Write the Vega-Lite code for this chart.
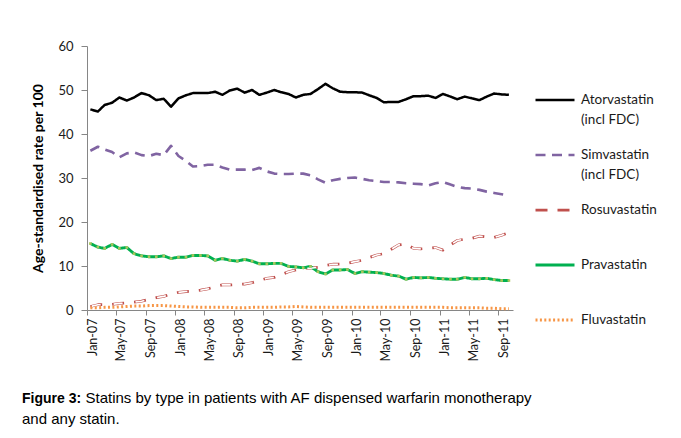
{
  "$schema": "https://vega.github.io/schema/vega-lite/v6.json",
  "width": 426,
  "height": 264,
  "autosize": {"type": "none"},
  "padding": {"left": 87, "top": 46, "right": 168, "bottom": 128},
  "background": "white",
  "title": {
    "text": "Figure 3:",
    "subtitle": "and any statin.",
    "orient": "bottom",
    "anchor": "start",
    "frame": "group",
    "dx": -65,
    "offset": -13,
    "font": "Liberation Sans",
    "fontSize": 14,
    "fontWeight": "bold",
    "color": "#000000",
    "subtitleFont": "Liberation Sans",
    "subtitleFontSize": 15,
    "subtitleColor": "#000000",
    "subtitlePadding": 6
  },
  "config": {
    "view": {"stroke": null},
    "style": {"guide-label": {"lineHeight": 20}}
  },
  "data": {
    "values": [
{"month":"2007-01-15","statin":"Atorvastatin (incl FDC)","rate":45.6},
{"month":"2007-02-15","statin":"Atorvastatin (incl FDC)","rate":45.1},
{"month":"2007-03-15","statin":"Atorvastatin (incl FDC)","rate":46.6},
{"month":"2007-04-15","statin":"Atorvastatin (incl FDC)","rate":47.1},
{"month":"2007-05-15","statin":"Atorvastatin (incl FDC)","rate":48.3},
{"month":"2007-06-15","statin":"Atorvastatin (incl FDC)","rate":47.6},
{"month":"2007-07-15","statin":"Atorvastatin (incl FDC)","rate":48.3},
{"month":"2007-08-15","statin":"Atorvastatin (incl FDC)","rate":49.3},
{"month":"2007-09-15","statin":"Atorvastatin (incl FDC)","rate":48.8},
{"month":"2007-10-15","statin":"Atorvastatin (incl FDC)","rate":47.7},
{"month":"2007-11-15","statin":"Atorvastatin (incl FDC)","rate":48.0},
{"month":"2007-12-15","statin":"Atorvastatin (incl FDC)","rate":46.2},
{"month":"2008-01-15","statin":"Atorvastatin (incl FDC)","rate":48.1},
{"month":"2008-02-15","statin":"Atorvastatin (incl FDC)","rate":48.8},
{"month":"2008-03-15","statin":"Atorvastatin (incl FDC)","rate":49.3},
{"month":"2008-04-15","statin":"Atorvastatin (incl FDC)","rate":49.3},
{"month":"2008-05-15","statin":"Atorvastatin (incl FDC)","rate":49.3},
{"month":"2008-06-15","statin":"Atorvastatin (incl FDC)","rate":49.6},
{"month":"2008-07-15","statin":"Atorvastatin (incl FDC)","rate":48.9},
{"month":"2008-08-15","statin":"Atorvastatin (incl FDC)","rate":49.9},
{"month":"2008-09-15","statin":"Atorvastatin (incl FDC)","rate":50.3},
{"month":"2008-10-15","statin":"Atorvastatin (incl FDC)","rate":49.4},
{"month":"2008-11-15","statin":"Atorvastatin (incl FDC)","rate":50.0},
{"month":"2008-12-15","statin":"Atorvastatin (incl FDC)","rate":48.9},
{"month":"2009-01-15","statin":"Atorvastatin (incl FDC)","rate":49.4},
{"month":"2009-02-15","statin":"Atorvastatin (incl FDC)","rate":50.0},
{"month":"2009-03-15","statin":"Atorvastatin (incl FDC)","rate":49.5},
{"month":"2009-04-15","statin":"Atorvastatin (incl FDC)","rate":49.1},
{"month":"2009-05-15","statin":"Atorvastatin (incl FDC)","rate":48.3},
{"month":"2009-06-15","statin":"Atorvastatin (incl FDC)","rate":48.9},
{"month":"2009-07-15","statin":"Atorvastatin (incl FDC)","rate":49.1},
{"month":"2009-08-15","statin":"Atorvastatin (incl FDC)","rate":50.2},
{"month":"2009-09-15","statin":"Atorvastatin (incl FDC)","rate":51.4},
{"month":"2009-10-15","statin":"Atorvastatin (incl FDC)","rate":50.4},
{"month":"2009-11-15","statin":"Atorvastatin (incl FDC)","rate":49.6},
{"month":"2009-12-15","statin":"Atorvastatin (incl FDC)","rate":49.5},
{"month":"2010-01-15","statin":"Atorvastatin (incl FDC)","rate":49.5},
{"month":"2010-02-15","statin":"Atorvastatin (incl FDC)","rate":49.4},
{"month":"2010-03-15","statin":"Atorvastatin (incl FDC)","rate":48.8},
{"month":"2010-04-15","statin":"Atorvastatin (incl FDC)","rate":48.2},
{"month":"2010-05-15","statin":"Atorvastatin (incl FDC)","rate":47.2},
{"month":"2010-06-15","statin":"Atorvastatin (incl FDC)","rate":47.3},
{"month":"2010-07-15","statin":"Atorvastatin (incl FDC)","rate":47.3},
{"month":"2010-08-15","statin":"Atorvastatin (incl FDC)","rate":47.9},
{"month":"2010-09-15","statin":"Atorvastatin (incl FDC)","rate":48.6},
{"month":"2010-10-15","statin":"Atorvastatin (incl FDC)","rate":48.6},
{"month":"2010-11-15","statin":"Atorvastatin (incl FDC)","rate":48.7},
{"month":"2010-12-15","statin":"Atorvastatin (incl FDC)","rate":48.2},
{"month":"2011-01-15","statin":"Atorvastatin (incl FDC)","rate":49.1},
{"month":"2011-02-15","statin":"Atorvastatin (incl FDC)","rate":48.5},
{"month":"2011-03-15","statin":"Atorvastatin (incl FDC)","rate":47.9},
{"month":"2011-04-15","statin":"Atorvastatin (incl FDC)","rate":48.5},
{"month":"2011-05-15","statin":"Atorvastatin (incl FDC)","rate":48.1},
{"month":"2011-06-15","statin":"Atorvastatin (incl FDC)","rate":47.7},
{"month":"2011-07-15","statin":"Atorvastatin (incl FDC)","rate":48.5},
{"month":"2011-08-15","statin":"Atorvastatin (incl FDC)","rate":49.2},
{"month":"2011-09-15","statin":"Atorvastatin (incl FDC)","rate":49.0},
{"month":"2011-10-15","statin":"Atorvastatin (incl FDC)","rate":48.9},
{"month":"2007-01-15","statin":"Simvastatin (incl FDC)","rate":36.2},
{"month":"2007-02-15","statin":"Simvastatin (incl FDC)","rate":37.1},
{"month":"2007-03-15","statin":"Simvastatin (incl FDC)","rate":36.5},
{"month":"2007-04-15","statin":"Simvastatin (incl FDC)","rate":35.9},
{"month":"2007-05-15","statin":"Simvastatin (incl FDC)","rate":34.7},
{"month":"2007-06-15","statin":"Simvastatin (incl FDC)","rate":35.6},
{"month":"2007-07-15","statin":"Simvastatin (incl FDC)","rate":35.8},
{"month":"2007-08-15","statin":"Simvastatin (incl FDC)","rate":35.2},
{"month":"2007-09-15","statin":"Simvastatin (incl FDC)","rate":35.0},
{"month":"2007-10-15","statin":"Simvastatin (incl FDC)","rate":35.5},
{"month":"2007-11-15","statin":"Simvastatin (incl FDC)","rate":35.2},
{"month":"2007-12-15","statin":"Simvastatin (incl FDC)","rate":37.3},
{"month":"2008-01-15","statin":"Simvastatin (incl FDC)","rate":35.0},
{"month":"2008-02-15","statin":"Simvastatin (incl FDC)","rate":33.9},
{"month":"2008-03-15","statin":"Simvastatin (incl FDC)","rate":32.6},
{"month":"2008-04-15","statin":"Simvastatin (incl FDC)","rate":32.7},
{"month":"2008-05-15","statin":"Simvastatin (incl FDC)","rate":33.0},
{"month":"2008-06-15","statin":"Simvastatin (incl FDC)","rate":33.0},
{"month":"2008-07-15","statin":"Simvastatin (incl FDC)","rate":32.4},
{"month":"2008-08-15","statin":"Simvastatin (incl FDC)","rate":31.9},
{"month":"2008-09-15","statin":"Simvastatin (incl FDC)","rate":31.9},
{"month":"2008-10-15","statin":"Simvastatin (incl FDC)","rate":31.9},
{"month":"2008-11-15","statin":"Simvastatin (incl FDC)","rate":31.8},
{"month":"2008-12-15","statin":"Simvastatin (incl FDC)","rate":32.3},
{"month":"2009-01-15","statin":"Simvastatin (incl FDC)","rate":31.5},
{"month":"2009-02-15","statin":"Simvastatin (incl FDC)","rate":31.0},
{"month":"2009-03-15","statin":"Simvastatin (incl FDC)","rate":30.9},
{"month":"2009-04-15","statin":"Simvastatin (incl FDC)","rate":30.9},
{"month":"2009-05-15","statin":"Simvastatin (incl FDC)","rate":31.0},
{"month":"2009-06-15","statin":"Simvastatin (incl FDC)","rate":31.0},
{"month":"2009-07-15","statin":"Simvastatin (incl FDC)","rate":30.6},
{"month":"2009-08-15","statin":"Simvastatin (incl FDC)","rate":29.7},
{"month":"2009-09-15","statin":"Simvastatin (incl FDC)","rate":28.9},
{"month":"2009-10-15","statin":"Simvastatin (incl FDC)","rate":29.5},
{"month":"2009-11-15","statin":"Simvastatin (incl FDC)","rate":29.8},
{"month":"2009-12-15","statin":"Simvastatin (incl FDC)","rate":30.0},
{"month":"2010-01-15","statin":"Simvastatin (incl FDC)","rate":30.1},
{"month":"2010-02-15","statin":"Simvastatin (incl FDC)","rate":29.8},
{"month":"2010-03-15","statin":"Simvastatin (incl FDC)","rate":29.5},
{"month":"2010-04-15","statin":"Simvastatin (incl FDC)","rate":29.3},
{"month":"2010-05-15","statin":"Simvastatin (incl FDC)","rate":29.1},
{"month":"2010-06-15","statin":"Simvastatin (incl FDC)","rate":29.1},
{"month":"2010-07-15","statin":"Simvastatin (incl FDC)","rate":29.0},
{"month":"2010-08-15","statin":"Simvastatin (incl FDC)","rate":28.8},
{"month":"2010-09-15","statin":"Simvastatin (incl FDC)","rate":28.7},
{"month":"2010-10-15","statin":"Simvastatin (incl FDC)","rate":28.6},
{"month":"2010-11-15","statin":"Simvastatin (incl FDC)","rate":28.3},
{"month":"2010-12-15","statin":"Simvastatin (incl FDC)","rate":28.8},
{"month":"2011-01-15","statin":"Simvastatin (incl FDC)","rate":29.1},
{"month":"2011-02-15","statin":"Simvastatin (incl FDC)","rate":28.5},
{"month":"2011-03-15","statin":"Simvastatin (incl FDC)","rate":28.0},
{"month":"2011-04-15","statin":"Simvastatin (incl FDC)","rate":27.7},
{"month":"2011-05-15","statin":"Simvastatin (incl FDC)","rate":27.6},
{"month":"2011-06-15","statin":"Simvastatin (incl FDC)","rate":27.3},
{"month":"2011-07-15","statin":"Simvastatin (incl FDC)","rate":26.9},
{"month":"2011-08-15","statin":"Simvastatin (incl FDC)","rate":26.6},
{"month":"2011-09-15","statin":"Simvastatin (incl FDC)","rate":26.3},
{"month":"2011-10-15","statin":"Simvastatin (incl FDC)","rate":26.0},
{"month":"2007-01-15","statin":"Rosuvastatin","rate":0.8},
{"month":"2007-02-15","statin":"Rosuvastatin","rate":1.2},
{"month":"2007-03-15","statin":"Rosuvastatin","rate":1.2},
{"month":"2007-04-15","statin":"Rosuvastatin","rate":1.3},
{"month":"2007-05-15","statin":"Rosuvastatin","rate":1.5},
{"month":"2007-06-15","statin":"Rosuvastatin","rate":1.6},
{"month":"2007-07-15","statin":"Rosuvastatin","rate":1.8},
{"month":"2007-08-15","statin":"Rosuvastatin","rate":2.0},
{"month":"2007-09-15","statin":"Rosuvastatin","rate":2.4},
{"month":"2007-10-15","statin":"Rosuvastatin","rate":2.8},
{"month":"2007-11-15","statin":"Rosuvastatin","rate":3.1},
{"month":"2007-12-15","statin":"Rosuvastatin","rate":3.6},
{"month":"2008-01-15","statin":"Rosuvastatin","rate":4.0},
{"month":"2008-02-15","statin":"Rosuvastatin","rate":4.2},
{"month":"2008-03-15","statin":"Rosuvastatin","rate":4.3},
{"month":"2008-04-15","statin":"Rosuvastatin","rate":4.5},
{"month":"2008-05-15","statin":"Rosuvastatin","rate":4.8},
{"month":"2008-06-15","statin":"Rosuvastatin","rate":5.3},
{"month":"2008-07-15","statin":"Rosuvastatin","rate":5.7},
{"month":"2008-08-15","statin":"Rosuvastatin","rate":5.7},
{"month":"2008-09-15","statin":"Rosuvastatin","rate":5.8},
{"month":"2008-10-15","statin":"Rosuvastatin","rate":5.9},
{"month":"2008-11-15","statin":"Rosuvastatin","rate":6.2},
{"month":"2008-12-15","statin":"Rosuvastatin","rate":6.7},
{"month":"2009-01-15","statin":"Rosuvastatin","rate":7.2},
{"month":"2009-02-15","statin":"Rosuvastatin","rate":7.4},
{"month":"2009-03-15","statin":"Rosuvastatin","rate":8.0},
{"month":"2009-04-15","statin":"Rosuvastatin","rate":8.7},
{"month":"2009-05-15","statin":"Rosuvastatin","rate":9.1},
{"month":"2009-06-15","statin":"Rosuvastatin","rate":9.5},
{"month":"2009-07-15","statin":"Rosuvastatin","rate":9.5},
{"month":"2009-08-15","statin":"Rosuvastatin","rate":9.7},
{"month":"2009-09-15","statin":"Rosuvastatin","rate":10.1},
{"month":"2009-10-15","statin":"Rosuvastatin","rate":10.4},
{"month":"2009-11-15","statin":"Rosuvastatin","rate":10.4},
{"month":"2009-12-15","statin":"Rosuvastatin","rate":10.6},
{"month":"2010-01-15","statin":"Rosuvastatin","rate":11.0},
{"month":"2010-02-15","statin":"Rosuvastatin","rate":11.3},
{"month":"2010-03-15","statin":"Rosuvastatin","rate":11.9},
{"month":"2010-04-15","statin":"Rosuvastatin","rate":12.5},
{"month":"2010-05-15","statin":"Rosuvastatin","rate":12.8},
{"month":"2010-06-15","statin":"Rosuvastatin","rate":13.8},
{"month":"2010-07-15","statin":"Rosuvastatin","rate":14.8},
{"month":"2010-08-15","statin":"Rosuvastatin","rate":15.0},
{"month":"2010-09-15","statin":"Rosuvastatin","rate":14.0},
{"month":"2010-10-15","statin":"Rosuvastatin","rate":13.9},
{"month":"2010-11-15","statin":"Rosuvastatin","rate":14.0},
{"month":"2010-12-15","statin":"Rosuvastatin","rate":14.2},
{"month":"2011-01-15","statin":"Rosuvastatin","rate":13.6},
{"month":"2011-02-15","statin":"Rosuvastatin","rate":14.8},
{"month":"2011-03-15","statin":"Rosuvastatin","rate":15.8},
{"month":"2011-04-15","statin":"Rosuvastatin","rate":16.1},
{"month":"2011-05-15","statin":"Rosuvastatin","rate":16.3},
{"month":"2011-06-15","statin":"Rosuvastatin","rate":16.8},
{"month":"2011-07-15","statin":"Rosuvastatin","rate":16.6},
{"month":"2011-08-15","statin":"Rosuvastatin","rate":16.5},
{"month":"2011-09-15","statin":"Rosuvastatin","rate":17.0},
{"month":"2011-10-15","statin":"Rosuvastatin","rate":17.6},
{"month":"2007-01-15","statin":"Pravastatin","rate":15.1},
{"month":"2007-02-15","statin":"Pravastatin","rate":14.3},
{"month":"2007-03-15","statin":"Pravastatin","rate":14.0},
{"month":"2007-04-15","statin":"Pravastatin","rate":14.9},
{"month":"2007-05-15","statin":"Pravastatin","rate":14.0},
{"month":"2007-06-15","statin":"Pravastatin","rate":14.2},
{"month":"2007-07-15","statin":"Pravastatin","rate":12.8},
{"month":"2007-08-15","statin":"Pravastatin","rate":12.3},
{"month":"2007-09-15","statin":"Pravastatin","rate":12.1},
{"month":"2007-10-15","statin":"Pravastatin","rate":12.1},
{"month":"2007-11-15","statin":"Pravastatin","rate":12.3},
{"month":"2007-12-15","statin":"Pravastatin","rate":11.7},
{"month":"2008-01-15","statin":"Pravastatin","rate":12.0},
{"month":"2008-02-15","statin":"Pravastatin","rate":12.0},
{"month":"2008-03-15","statin":"Pravastatin","rate":12.4},
{"month":"2008-04-15","statin":"Pravastatin","rate":12.4},
{"month":"2008-05-15","statin":"Pravastatin","rate":12.3},
{"month":"2008-06-15","statin":"Pravastatin","rate":11.3},
{"month":"2008-07-15","statin":"Pravastatin","rate":11.7},
{"month":"2008-08-15","statin":"Pravastatin","rate":11.3},
{"month":"2008-09-15","statin":"Pravastatin","rate":11.1},
{"month":"2008-10-15","statin":"Pravastatin","rate":11.5},
{"month":"2008-11-15","statin":"Pravastatin","rate":11.1},
{"month":"2008-12-15","statin":"Pravastatin","rate":10.5},
{"month":"2009-01-15","statin":"Pravastatin","rate":10.5},
{"month":"2009-02-15","statin":"Pravastatin","rate":10.6},
{"month":"2009-03-15","statin":"Pravastatin","rate":10.6},
{"month":"2009-04-15","statin":"Pravastatin","rate":9.9},
{"month":"2009-05-15","statin":"Pravastatin","rate":9.8},
{"month":"2009-06-15","statin":"Pravastatin","rate":9.6},
{"month":"2009-07-15","statin":"Pravastatin","rate":9.9},
{"month":"2009-08-15","statin":"Pravastatin","rate":8.7},
{"month":"2009-09-15","statin":"Pravastatin","rate":8.2},
{"month":"2009-10-15","statin":"Pravastatin","rate":9.1},
{"month":"2009-11-15","statin":"Pravastatin","rate":9.1},
{"month":"2009-12-15","statin":"Pravastatin","rate":9.2},
{"month":"2010-01-15","statin":"Pravastatin","rate":8.3},
{"month":"2010-02-15","statin":"Pravastatin","rate":8.7},
{"month":"2010-03-15","statin":"Pravastatin","rate":8.6},
{"month":"2010-04-15","statin":"Pravastatin","rate":8.5},
{"month":"2010-05-15","statin":"Pravastatin","rate":8.3},
{"month":"2010-06-15","statin":"Pravastatin","rate":7.9},
{"month":"2010-07-15","statin":"Pravastatin","rate":7.7},
{"month":"2010-08-15","statin":"Pravastatin","rate":7.0},
{"month":"2010-09-15","statin":"Pravastatin","rate":7.4},
{"month":"2010-10-15","statin":"Pravastatin","rate":7.3},
{"month":"2010-11-15","statin":"Pravastatin","rate":7.4},
{"month":"2010-12-15","statin":"Pravastatin","rate":7.2},
{"month":"2011-01-15","statin":"Pravastatin","rate":7.1},
{"month":"2011-02-15","statin":"Pravastatin","rate":7.0},
{"month":"2011-03-15","statin":"Pravastatin","rate":7.0},
{"month":"2011-04-15","statin":"Pravastatin","rate":7.4},
{"month":"2011-05-15","statin":"Pravastatin","rate":7.1},
{"month":"2011-06-15","statin":"Pravastatin","rate":7.1},
{"month":"2011-07-15","statin":"Pravastatin","rate":7.2},
{"month":"2011-08-15","statin":"Pravastatin","rate":6.9},
{"month":"2011-09-15","statin":"Pravastatin","rate":6.7},
{"month":"2011-10-15","statin":"Pravastatin","rate":6.7},
{"month":"2007-01-15","statin":"Fluvastatin","rate":0.5},
{"month":"2007-02-15","statin":"Fluvastatin","rate":0.5},
{"month":"2007-03-15","statin":"Fluvastatin","rate":0.6},
{"month":"2007-04-15","statin":"Fluvastatin","rate":0.6},
{"month":"2007-05-15","statin":"Fluvastatin","rate":0.7},
{"month":"2007-06-15","statin":"Fluvastatin","rate":0.8},
{"month":"2007-07-15","statin":"Fluvastatin","rate":0.9},
{"month":"2007-08-15","statin":"Fluvastatin","rate":0.9},
{"month":"2007-09-15","statin":"Fluvastatin","rate":1.0},
{"month":"2007-10-15","statin":"Fluvastatin","rate":1.0},
{"month":"2007-11-15","statin":"Fluvastatin","rate":1.0},
{"month":"2007-12-15","statin":"Fluvastatin","rate":0.9},
{"month":"2008-01-15","statin":"Fluvastatin","rate":0.8},
{"month":"2008-02-15","statin":"Fluvastatin","rate":0.7},
{"month":"2008-03-15","statin":"Fluvastatin","rate":0.7},
{"month":"2008-04-15","statin":"Fluvastatin","rate":0.6},
{"month":"2008-05-15","statin":"Fluvastatin","rate":0.6},
{"month":"2008-06-15","statin":"Fluvastatin","rate":0.6},
{"month":"2008-07-15","statin":"Fluvastatin","rate":0.6},
{"month":"2008-08-15","statin":"Fluvastatin","rate":0.6},
{"month":"2008-09-15","statin":"Fluvastatin","rate":0.5},
{"month":"2008-10-15","statin":"Fluvastatin","rate":0.5},
{"month":"2008-11-15","statin":"Fluvastatin","rate":0.6},
{"month":"2008-12-15","statin":"Fluvastatin","rate":0.6},
{"month":"2009-01-15","statin":"Fluvastatin","rate":0.6},
{"month":"2009-02-15","statin":"Fluvastatin","rate":0.6},
{"month":"2009-03-15","statin":"Fluvastatin","rate":0.7},
{"month":"2009-04-15","statin":"Fluvastatin","rate":0.7},
{"month":"2009-05-15","statin":"Fluvastatin","rate":0.8},
{"month":"2009-06-15","statin":"Fluvastatin","rate":0.7},
{"month":"2009-07-15","statin":"Fluvastatin","rate":0.6},
{"month":"2009-08-15","statin":"Fluvastatin","rate":0.6},
{"month":"2009-09-15","statin":"Fluvastatin","rate":0.6},
{"month":"2009-10-15","statin":"Fluvastatin","rate":0.6},
{"month":"2009-11-15","statin":"Fluvastatin","rate":0.6},
{"month":"2009-12-15","statin":"Fluvastatin","rate":0.6},
{"month":"2010-01-15","statin":"Fluvastatin","rate":0.6},
{"month":"2010-02-15","statin":"Fluvastatin","rate":0.6},
{"month":"2010-03-15","statin":"Fluvastatin","rate":0.6},
{"month":"2010-04-15","statin":"Fluvastatin","rate":0.6},
{"month":"2010-05-15","statin":"Fluvastatin","rate":0.6},
{"month":"2010-06-15","statin":"Fluvastatin","rate":0.6},
{"month":"2010-07-15","statin":"Fluvastatin","rate":0.6},
{"month":"2010-08-15","statin":"Fluvastatin","rate":0.6},
{"month":"2010-09-15","statin":"Fluvastatin","rate":0.6},
{"month":"2010-10-15","statin":"Fluvastatin","rate":0.6},
{"month":"2010-11-15","statin":"Fluvastatin","rate":0.6},
{"month":"2010-12-15","statin":"Fluvastatin","rate":0.6},
{"month":"2011-01-15","statin":"Fluvastatin","rate":0.6},
{"month":"2011-02-15","statin":"Fluvastatin","rate":0.5},
{"month":"2011-03-15","statin":"Fluvastatin","rate":0.5},
{"month":"2011-04-15","statin":"Fluvastatin","rate":0.5},
{"month":"2011-05-15","statin":"Fluvastatin","rate":0.5},
{"month":"2011-06-15","statin":"Fluvastatin","rate":0.5},
{"month":"2011-07-15","statin":"Fluvastatin","rate":0.4},
{"month":"2011-08-15","statin":"Fluvastatin","rate":0.4},
{"month":"2011-09-15","statin":"Fluvastatin","rate":0.3},
{"month":"2011-10-15","statin":"Fluvastatin","rate":0.3}
    ]
  },
  "encoding": {
    "x": {
      "field": "month",
      "type": "temporal",
      "scale": {
        "type": "utc",
        "domain": [
          {"year": 2007, "month": 1, "date": 1, "utc": true},
          {"year": 2011, "month": 11, "date": 1, "utc": true}
        ]
      },
      "axis": {
        "values": [
          {"year": 2007, "month": 1, "date": 1, "utc": true},
          {"year": 2007, "month": 5, "date": 1, "utc": true},
          {"year": 2007, "month": 9, "date": 1, "utc": true},
          {"year": 2008, "month": 1, "date": 1, "utc": true},
          {"year": 2008, "month": 5, "date": 1, "utc": true},
          {"year": 2008, "month": 9, "date": 1, "utc": true},
          {"year": 2009, "month": 1, "date": 1, "utc": true},
          {"year": 2009, "month": 5, "date": 1, "utc": true},
          {"year": 2009, "month": 9, "date": 1, "utc": true},
          {"year": 2010, "month": 1, "date": 1, "utc": true},
          {"year": 2010, "month": 5, "date": 1, "utc": true},
          {"year": 2010, "month": 9, "date": 1, "utc": true},
          {"year": 2011, "month": 1, "date": 1, "utc": true},
          {"year": 2011, "month": 5, "date": 1, "utc": true},
          {"year": 2011, "month": 9, "date": 1, "utc": true}
        ],
        "format": "%b-%y",
        "labelAngle": -90,
        "labelOffset": 5,
        "labelPadding": 3,
        "labelFont": "Lato",
        "labelFontSize": 12.5,
        "labelColor": "#1a1a1a",
        "labelOverlap": false,
        "domainColor": "#868686",
        "tickColor": "#868686",
        "tickSize": 5,
        "grid": false,
        "title": "Statins by type in patients with AF dispensed warfarin monotherapy",
        "titleX": -2,
        "titleY": 92,
        "titleAlign": "left",
        "titleBaseline": "alphabetic",
        "titleAngle": 0,
        "titleFont": "Liberation Sans",
        "titleFontSize": 15,
        "titleFontWeight": "normal",
        "titleColor": "#000000"
      }
    },
    "y": {
      "field": "rate",
      "type": "quantitative",
      "scale": {"domain": [0, 60], "nice": false, "zero": true},
      "axis": {
        "values": [0, 10, 20, 30, 40, 50, 60],
        "grid": false,
        "domainColor": "#868686",
        "tickColor": "#868686",
        "tickSize": 6,
        "labelPadding": 8,
        "labelFont": "Lato",
        "labelFontSize": 13,
        "labelColor": "#1a1a1a",
        "title": "Age-standardised rate per 100",
        "titleFont": "Lato",
        "titleFontSize": 14,
        "titleFontWeight": "bold",
        "titleColor": "#000000",
        "titlePadding": 12
      }
    }
  },
  "layer": [
    {
      "mark": {"type": "line", "strokeCap": "butt", "strokeJoin": "round"},
      "encoding": {
        "color": {
          "field": "statin",
          "type": "nominal",
          "scale": {
            "domain": ["Atorvastatin (incl FDC)", "Simvastatin (incl FDC)", "Rosuvastatin", "Pravastatin", "Fluvastatin"],
            "range": ["#000000", "#8064A2", "#C0504D", "#00B050", "#F79646"]
          },
          "legend": {
            "orient": "none",
            "legendX": 447,
            "legendY": 33,
            "title": null,
            "symbolType": "stroke",
            "symbolSize": 1521,
            "symbolStrokeWidth": 2.5,
            "labelFont": "Lato",
            "labelFontSize": 13.5,
            "labelColor": "#1a1a1a",
            "labelOffset": 5,
            "labelLimit": 200,
            "rowPadding": 7,
            "labelExpr": "datum.label == 'Atorvastatin (incl FDC)' ? ['Atorvastatin', '(incl FDC)'] : datum.label == 'Simvastatin (incl FDC)' ? ['Simvastatin', '(incl FDC)'] : [datum.label, ' ']"
          }
        },
        "strokeDash": {
          "field": "statin",
          "type": "nominal",
          "scale": {
            "domain": ["Atorvastatin (incl FDC)", "Simvastatin (incl FDC)", "Rosuvastatin", "Pravastatin", "Fluvastatin"],
            "range": [[1, 0], [10, 6.5], [12, 10], [1, 0], [2, 2.4]]
          }
        },
        "strokeWidth": {
          "field": "statin",
          "type": "nominal",
          "scale": {
            "domain": ["Atorvastatin (incl FDC)", "Simvastatin (incl FDC)", "Rosuvastatin", "Pravastatin", "Fluvastatin"],
            "range": [2.5, 3, 4.2, 3, 2.5]
          },
          "legend": null
        }
      }
    },
    {
      "transform": [{"filter": "datum.statin == 'Rosuvastatin'"}],
      "mark": {"type": "line", "color": "white", "strokeWidth": 1.6, "strokeDash": [9, 13], "strokeDashOffset": -1.5, "strokeCap": "butt"},
      "encoding": {}
    },
    {
      "transform": [{"filter": "datum.statin == 'Pravastatin'"}],
      "mark": {"type": "point", "shape": "square", "filled": true, "color": "#A9C65C", "size": 7, "opacity": 1},
      "encoding": {}
    }
  ]
}
